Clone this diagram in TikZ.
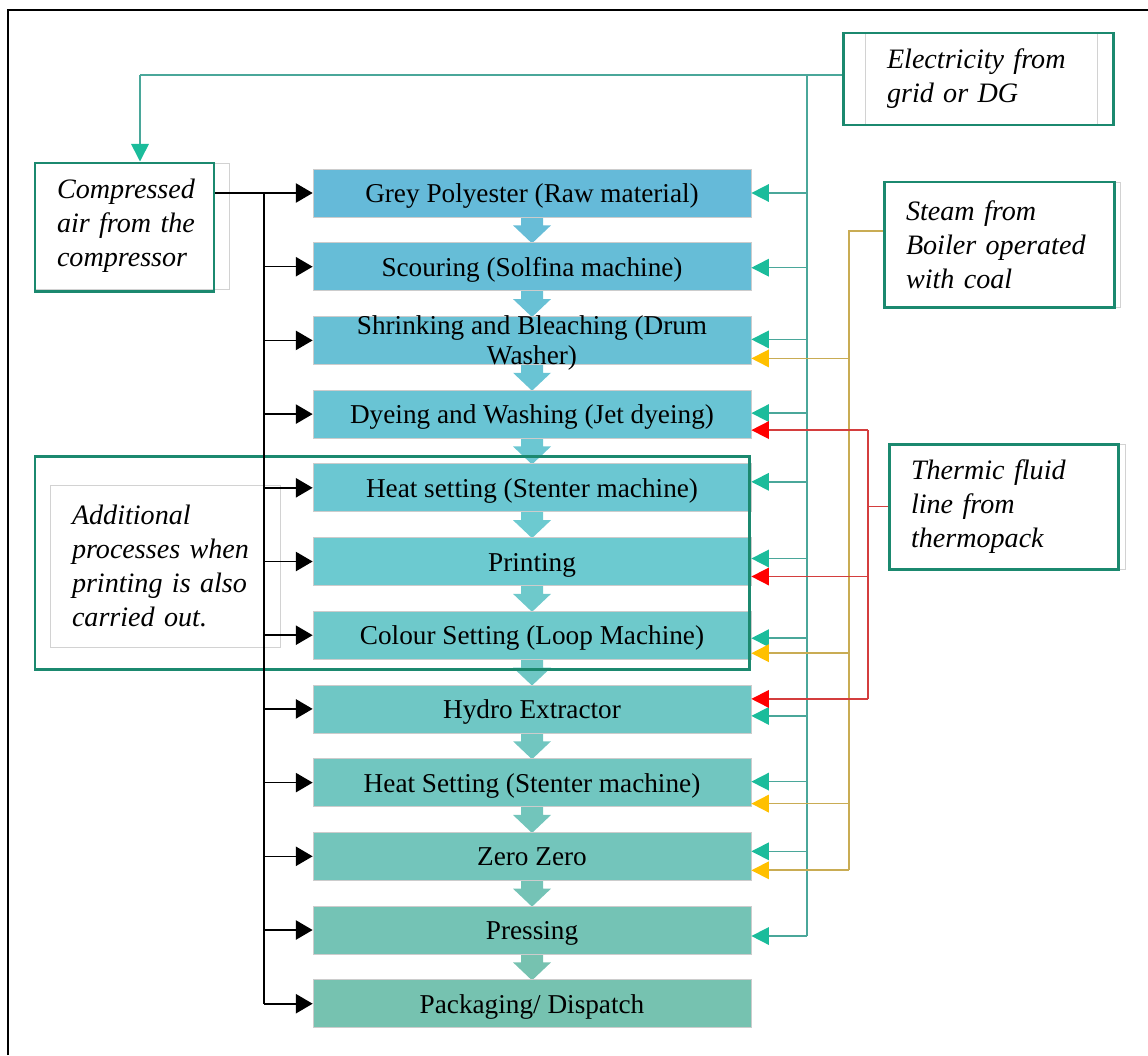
\documentclass[tikz,border=0pt]{standalone}
\usepackage{fontspec}
\setmainfont{Liberation Serif}
\usetikzlibrary{arrows.meta,calc,backgrounds}
\newlength{\unitpx}
\setlength{\unitpx}{0.02cm}
\definecolor{topblue}{RGB}{101,186,217}
\definecolor{midcyan}{RGB}{108,202,208}
\definecolor{botgreen}{RGB}{118,194,176}
\definecolor{framegreen}{RGB}{27,137,111}
\definecolor{electeal}{RGB}{74,167,154}
\definecolor{tealtip}{RGB}{27,188,155}
\definecolor{steamtan}{RGB}{201,172,84}
\definecolor{steamgold}{RGB}{255,192,0}
\definecolor{thermred}{RGB}{212,62,62}
\begin{document}
\begin{tikzpicture}[x=0.02cm, y=-0.02cm,
  procbox/.style={minimum width=438\unitpx, minimum height=48\unitpx, inner sep=0pt,
    draw=gray!40, line width=0.4pt, text height=13pt, text depth=2.2pt,
    font=\fontsize{15.5}{17}\selectfont},
  greenbox/.style 2 args={draw=framegreen, line width=1.7pt, minimum width=#1\unitpx,
    minimum height=#2\unitpx, inner sep=0pt},
  notetext/.style 2 args={draw=gray!35, line width=0.5pt, inner xsep=22\unitpx, inner ysep=0pt,
    text width=#1\unitpx, minimum height=#2\unitpx, align=left,
    font=\fontsize{16}{19.3}\selectfont\itshape},
  airline/.style={line width=0.9pt, black},
  airarrow/.style={airline, -{Triangle[length=9.6pt, width=11pt]}},
  elecline/.style={line width=0.9pt, electeal},
  elecarrow/.style={elecline, -{Triangle[length=10pt, width=10pt, color=tealtip, fill=tealtip]}},
  steamline/.style={line width=1pt, steamtan},
  steamarrow/.style={steamline, -{Triangle[length=10pt, width=10pt, color=steamgold, fill=steamgold]}},
  thermline/.style={line width=0.9pt, thermred},
  thermarrow/.style={thermline, -{Triangle[length=10pt, width=10pt, color=red, fill=red]}}]
  \useasboundingbox (0,0) rectangle (1148,1055);
  \draw[line width=1.1pt] (8,1055) -- (8,10) -- (1148,10);

  \foreach \i/\txt in {1/Grey Polyester (Raw material), 2/Scouring (Solfina machine),
      3/{\smash{\begin{tabular}{@{}c@{}}Shrinking and Bleaching (Drum\\Washer)\end{tabular}}},
      4/Dyeing and Washing (Jet dyeing), 5/Heat setting (Stenter machine), 6/Printing,
      7/Colour Setting (Loop Machine), 8/Hydro Extractor, 9/Heat Setting (Stenter machine),
      10/Zero Zero, 11/Pressing, 12/{Packaging/ Dispatch}} {
    \ifnum\i<7
      \pgfmathtruncatemacro{\p}{20*(\i-1)}
      \colorlet{boxcol}{midcyan!\p!topblue}
    \else
      \pgfmathtruncatemacro{\p}{100*(\i-6)/6}
      \colorlet{boxcol}{botgreen!\p!midcyan}
    \fi
    \node[procbox, fill=boxcol] (b\i) at (532, {193+73.7*(\i-1)}) {\txt};
    \ifnum\i>1
      \pgfmathtruncatemacro{\k}{\i-1}
      \begin{scope}[on background layer]
        \fill[boxcol] ($(b\k.south)+(-11,-2)$) -- ++(22,0) -- ++(0,10) -- ++(8,0)
          -- ($(b\i.north)+(0,1)$) -- ($(b\k.south)+(-19,8)$) -- ++(8,0) -- cycle;
      \end{scope}
    \fi
  }

  \node[notetext={188}{92}] (elecnote) at (981,79) {Electricity from\\grid or DG};
  \node[notetext={150}{126}] (airnote) at (132,226) {Compressed\\air from the\\compressor};
  \node[notetext={192}{125}] (steamnote) at (1002,244.5) {Steam from\\Boiler operated\\with coal};
  \node[notetext={192}{125}] (thermonote) at (1007,506.5) {Thermic fluid\\line from\\thermopack};
  \node[notetext={186}{162}] (addnote) at (165,566) {Additional\\processes when\\printing is also\\carried out.};

  \node[greenbox={270}{92}] (elecbox) at (978,79) {};
  \node[greenbox={179}{128}] (airbox) at (124.5,227) {};
  \node[greenbox={230}{125}] (steambox) at (999,244.5) {};
  \node[greenbox={229}{125}] (thermobox) at (1003.5,506.5) {};
  \node[greenbox={714}{213}] (printgroup) at (392,562.5) {};

  \coordinate (airbus) at (264,0);
  \draw[airarrow] (airbox.east |- b1.west) -- (b1.west);
  \draw[airline] (airbus |- b1.west) -- (airbus |- b12.west);
  \foreach \i in {2,...,12}
    \draw[airarrow] (airbus |- b\i.west) -- (b\i.west);

  \coordinate (ebus) at (807,75);
  \coordinate (edrop) at (140,75);
  \draw[elecline] (elecbox.west |- ebus) -- (edrop);
  \draw[elecarrow] (edrop) -- (edrop |- airbox.north);
  \draw[elecline] (ebus) -- ($(ebus |- b11.east)+(0,6)$);
  \foreach \i/\dy in {1/0, 2/1, 3/-1, 4/-1, 5/-6, 6/-3, 7/3, 8/7, 9/-1, 10/-5, 11/6} {
    \coordinate (tap) at ($(b\i.east)+(0,\dy)$);
    \draw[elecarrow] (ebus |- tap) -- (tap);
  }

  \coordinate (sbus) at (849,231);
  \draw[steamline] (steambox.west |- sbus) -- (sbus) -- ($(sbus |- b10.east)+(0,14)$);
  \foreach \i/\dy in {3/18, 7/18, 9/21, 10/14} {
    \coordinate (tap) at ($(b\i.east)+(0,\dy)$);
    \draw[steamarrow] (sbus |- tap) -- (tap);
  }

  \coordinate (tbus) at (868,0);
  \draw[thermline] (thermobox.west) -- (tbus |- thermobox.west);
  \draw[thermline] ($(tbus |- b4.east)+(0,16)$) -- ($(tbus |- b8.east)+(0,-10)$);
  \foreach \i/\dy in {4/16, 6/15, 8/-10} {
    \coordinate (tap) at ($(b\i.east)+(0,\dy)$);
    \draw[thermarrow] (tbus |- tap) -- (tap);
  }
\end{tikzpicture}
\end{document}
